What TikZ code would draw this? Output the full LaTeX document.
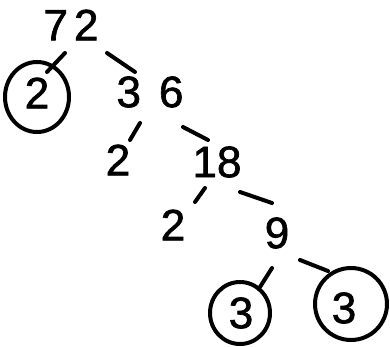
\documentclass[tikz,border=0pt]{standalone}
\usepackage{fontspec}
\setmainfont[FakeBold=1.5]{Liberation Sans}
\usetikzlibrary{shapes.geometric}
\begin{document}
\begin{tikzpicture}[x=1pt,y=-1pt,
  num/.style={inner sep=0pt,outer sep=0pt,font=\fontsize{44}{44}\selectfont},
  circled/.style={num,ellipse,draw,line width=4pt},
  branch/.style={line width=4pt,line cap=round}]
\useasboundingbox[fill=white] (0,0) rectangle (390,347);
\node[num] (n72) at (71,25) {7\hspace{6pt}2};
\node[circled,minimum width=64pt,minimum height=70pt] (c2a) at (37,97) {};
\node[num] at (37,93) {2};
\node[num] (n36) at (150,92) {3\hspace{18pt}6};
\node[num] (n2b) at (118,160) {2};
\node[num] (n18) at (217,162) {18};
\node[num] (n2c) at (173,225) {2};
\node[num] (n9) at (277,233) {9};
\node[circled,minimum width=60pt,minimum height=62pt] (c3a) at (240,313) {};
\node[num] at (241,313) {3};
\node[circled,minimum width=72pt,minimum height=72pt] (c3b) at (351,304) {};
\node[num] at (344,308) {3};
\draw[branch] ([shift={(-6,28)}]n72.center) -- ([shift={(10,-25)}]c2a.center);
\draw[branch] ([shift={(36,28)}]n72.center) -- ([shift={(-15,-20)}]n36.center);
\draw[branch] ([shift={(-10,31)}]n36.center) -- ([shift={(12,-20)}]n2b.center);
\draw[branch] ([shift={(33,35)}]n36.center) -- ([shift={(-9,-22)}]n18.center);
\draw[branch] ([shift={(-12,26)}]n18.center) -- ([shift={(22,-23)}]n2c.center);
\draw[branch] ([shift={(23,30)}]n18.center) -- ([shift={(-5,-30)}]n9.center);
\draw[branch] ([shift={(-5,35)}]n9.center) -- ([shift={(20,-26)}]c3a.center);
\draw[branch] ([shift={(23,27)}]n9.center) -- ([shift={(-23,-33)}]c3b.center);
\end{tikzpicture}
\end{document}
